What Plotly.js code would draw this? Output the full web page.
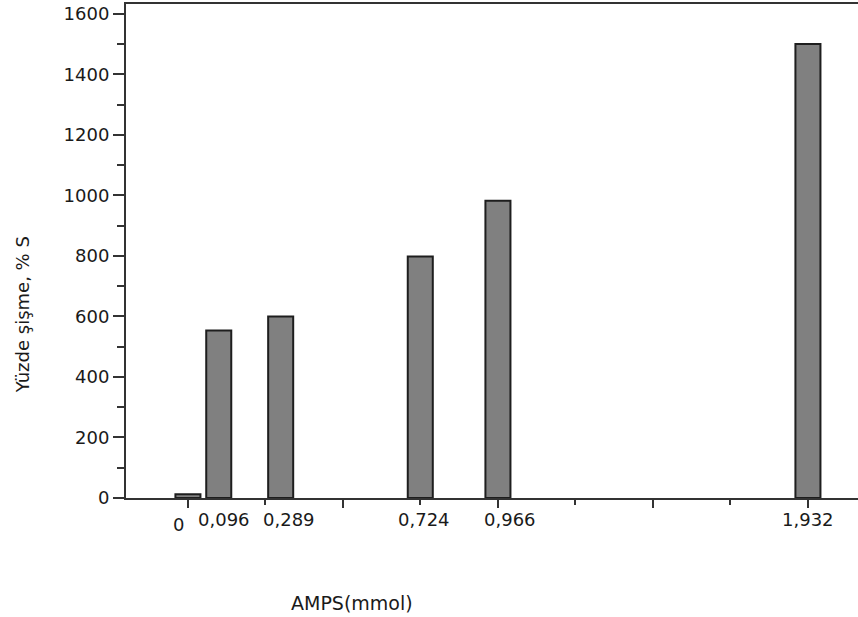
<!DOCTYPE html>
<html>
<head>
<meta charset="utf-8">
<script src="https://cdn.plot.ly/plotly-3.0.1.min.js"></script>
<style>html,body{margin:0;padding:0;background:#fff;}#chart{width:858px;height:617px;}</style>
</head>
<body>
<div id="chart"></div>
<script>
const amps = [0, 0.096, 0.289, 0.724, 0.966, 1.932];
const tickLabels = ['0', '0,096', '0,289', '0,724', '0,966', '1,932'];
const swelling = [12, 553, 600, 798, 982, 1500];
const xTitle = 'AMPS(mmol)';
const yTitle = 'Yüzde şişme, % S';

const FONT = 'DejaVu Sans, Verdana, sans-serif';
const TXT = '#1a1a1a';
const AX = '#333333';

// small horizontal / vertical nudges of the category labels (pixels), as in the original
const labelDx = [-9, 5, 8, 4, 12, 0];
const labelDy = [-26, -21, -21, -21, -21, -21];

const labelAnns = amps.map((v, i) => ({
  x: v, xref: 'x', y: 0, yref: 'paper',
  text: tickLabels[i], showarrow: false,
  xanchor: 'center', yanchor: 'middle',
  xshift: labelDx[i], yshift: labelDy[i],
  font: {family: FONT, size: 18, color: TXT}
}));

const data = [{
  type: 'bar',
  x: amps,
  y: swelling,
  width: 0.078,
  marker: {color: '#808080', line: {color: '#1e1e1e', width: 2}},
  hoverinfo: 'x+y'
}];

const layout = {
  width: 858, height: 617,
  margin: {l: 126, r: 0, t: 4, b: 119},
  paper_bgcolor: '#ffffff', plot_bgcolor: '#ffffff',
  showlegend: false,
  font: {family: FONT, size: 18, color: TXT},
  xaxis: {
    range: [-0.193, 2.088],
    showgrid: false, zeroline: false,
    showline: true, linecolor: AX, linewidth: 2, mirror: true,
    ticks: 'outside', tick0: 0, dtick: 0.483, ticklen: 8, tickwidth: 2, tickcolor: AX,
    minor: {ticks: 'outside', dtick: 0.2415, tick0: 0, ticklen: 5, tickwidth: 2, tickcolor: AX, showgrid: false},
    showticklabels: false
  },
  yaxis: {
    range: [0, 1632],
    showgrid: false, zeroline: false,
    showline: true, linecolor: AX, linewidth: 2,
    ticks: 'outside', tick0: 0, dtick: 200, ticklen: 11, tickwidth: 2, tickcolor: AX,
    minor: {ticks: 'outside', dtick: 100, ticklen: 7, tickwidth: 2, tickcolor: AX, showgrid: false},
    tickfont: {family: FONT, size: 18, color: TXT}
  },
  annotations: labelAnns.concat([
    {x: 0.309, xref: 'paper', y: 0, yref: 'paper', yshift: -105,
     text: xTitle, showarrow: false, xanchor: 'center', yanchor: 'middle',
     font: {family: FONT, size: 19, color: TXT}},
    {x: 0, xref: 'paper', xshift: -104, y: 0.370, yref: 'paper',
     text: yTitle, showarrow: false, textangle: -90, xanchor: 'center', yanchor: 'middle',
     font: {family: FONT, size: 18, color: TXT}}
  ])
};

Plotly.newPlot('chart', data, layout, {displayModeBar: false, staticPlot: true});
</script>
</body>
</html>
